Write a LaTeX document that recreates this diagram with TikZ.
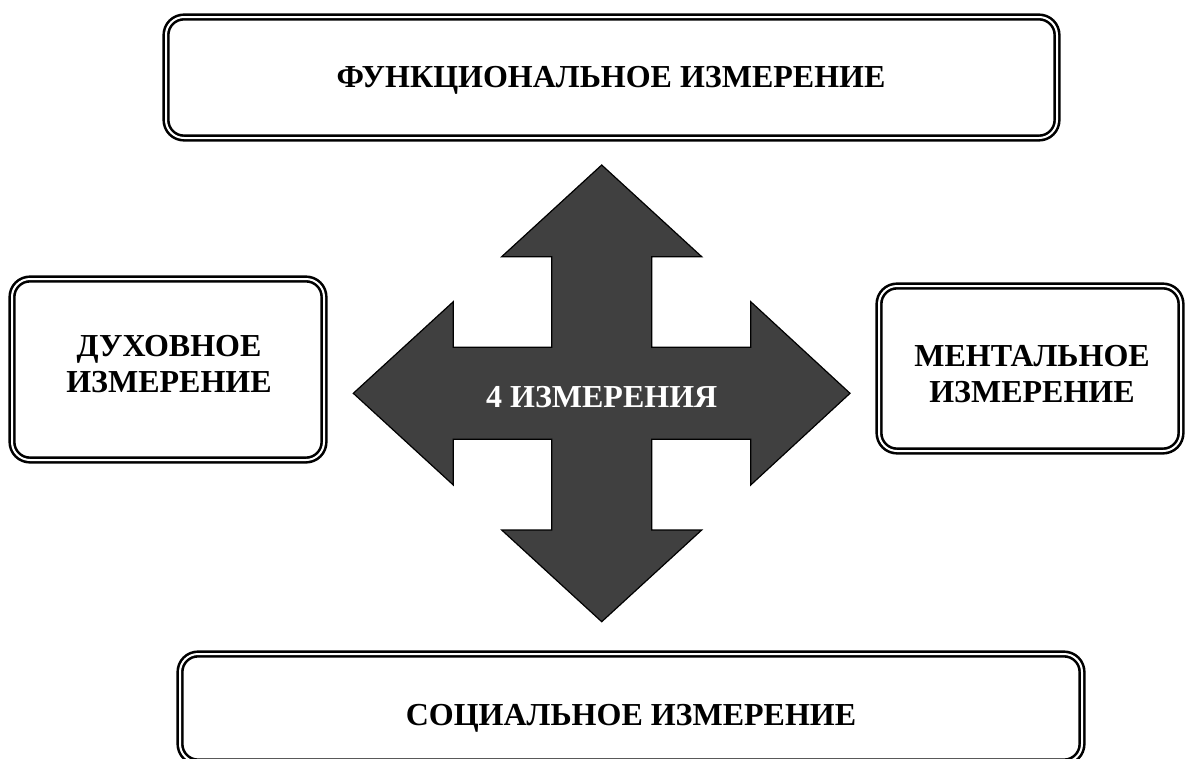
\documentclass[tikz,border=0pt]{standalone}
\usepackage{fontspec}
\setmainfont{Liberation Serif}
\begin{document}
\begin{tikzpicture}[x=1pt,y=-1pt,
  labelfont/.style={font=\fontsize{32}{36}\selectfont\bfseries},
  dimbox/.style={draw=black, line width=2.6pt, double=white, double distance=2pt,
    rounded corners=18pt, fill=white, inner sep=0pt},
  crossarrow/.style={fill=arrowgray, draw=black, line width=1.2pt, line join=miter}]
\definecolor{arrowgray}{HTML}{404040}
\useasboundingbox (0,0) rectangle (1185,758);

% four dimension frames
\node[dimbox, minimum width=891pt, minimum height=121pt] (func) at (611.5,77.5) {};
\node[dimbox, minimum width=312pt, minimum height=181pt] (spirit) at (168,369.5) {};
\node[dimbox, minimum width=302pt, minimum height=165pt] (mental) at (1030,368.5) {};
\node[dimbox, minimum width=902pt, minimum height=108pt] (social) at (631,708) {};

% frame captions
\node[labelfont] (functext) at (611,80) {ФУНКЦИОНАЛЬНОЕ ИЗМЕРЕНИЕ};
\node[labelfont, align=center] (spirittext) at (169,364) {ДУХОВНОЕ\\ИЗМЕРЕНИЕ};
\node[labelfont, align=center] (mentaltext) at (1032,374) {МЕНТАЛЬНОЕ\\ИЗМЕРЕНИЕ};
\node[labelfont] (socialtext) at (631,718) {СОЦИАЛЬНОЕ ИЗМЕРЕНИЕ};

% four-way arrow in the middle
\draw[crossarrow]
  (601.7,165) -- (701.7,256.7) -- (651.7,256.7) -- (651.7,347.3)
  -- (750.7,347.3) -- (750.7,301.7) -- (850,393.3) -- (750.7,485)
  -- (750.7,439.3) -- (651.7,439.3) -- (651.7,530) -- (701.7,530)
  -- (601.7,621.7) -- (501.7,530) -- (551.7,530) -- (551.7,439.3)
  -- (453.3,439.3) -- (453.3,485) -- (353.3,393.3) -- (453.3,301.7)
  -- (453.3,347.3) -- (551.7,347.3) -- (551.7,256.7) -- (501.7,256.7)
  -- cycle;
\node[labelfont, text=white] (core) at (601.7,397) {4 ИЗМЕРЕНИЯ};
\end{tikzpicture}
\end{document}
